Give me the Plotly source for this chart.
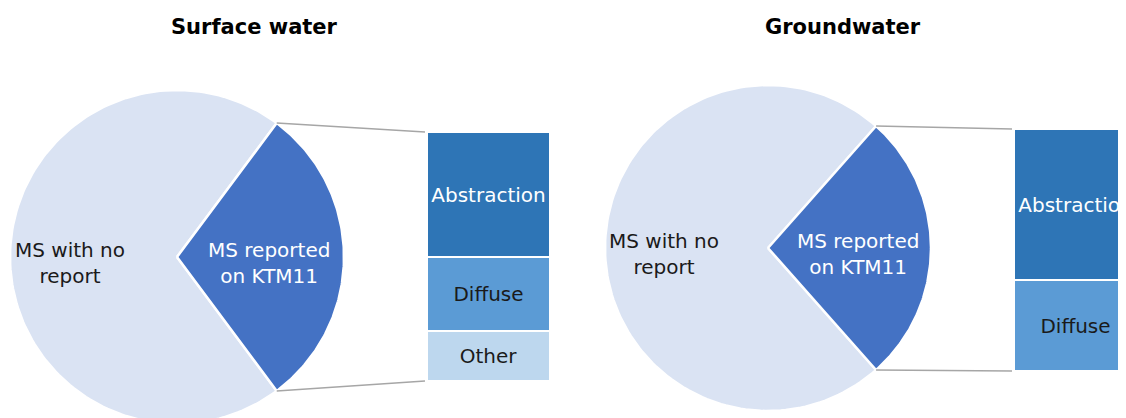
import numpy as np
import plotly.graph_objects as go

# values
panel_titles = ["Surface water", "Groundwater"]
pie_labels = ["MS reported<br>on KTM11", "MS with no<br>report"]
sw_pie = [8, 19]
gw_pie = [7, 19]
sw_bar_labels = ["Abstraction", "Diffuse", "Other"]
sw_bar = [5, 3, 2]
gw_bar_labels = ["Abstraction", "Diffuse"]
gw_bar = [5, 3]

OFF = 8  # page body margin, so positions below are page pixels
PAGE_W, PAGE_H = 1126, 418
W, H = PAGE_W - OFF, PAGE_H - OFF
FONT = "DejaVu Sans"
PIE_COLORS = ["#4472C4", "#DAE3F3"]
PIE_TEXT = ["#FFFFFF", "#1A1A1A"]
BAR_COLORS = ["#2E75B6", "#5B9BD5", "#BDD7EE"]
BAR_TEXT = ["#FFFFFF", "#1A1A1A", "#1A1A1A"]
LINK = "#A6A6A6"

# layout of each panel in page pixels: pie centre/radius, bar box, title x
panels = [
    dict(title_x=254, cx=177, cy=257, r=167, bx0=427, bx1=550, by0=132, by1=381,
         pie=sw_pie, bar=sw_bar, bar_labels=sw_bar_labels),
    dict(title_x=843, cx=768, cy=248, r=163, bx0=1014, bx1=1137, by0=129, by1=371,
         pie=gw_pie, bar=gw_bar, bar_labels=gw_bar_labels),
]


def sector(cx, cy, r, a0, a1):
    t = np.radians(np.linspace(a0, a1, 150))
    xs = np.concatenate([[cx], cx + r * np.cos(t), [cx]])
    ys = np.concatenate([[cy], cy - r * np.sin(t), [cy]])
    return xs, ys


fig = go.Figure()
annotations = []
shapes = []

for i, p in enumerate(panels):
    reported, rest = p["pie"]
    half = 180 * reported / (reported + rest)
    cx, cy, r = p["cx"], p["cy"], p["r"]

    # light part first, then the split-off wedge on the right
    for k, (a0, a1) in [(1, (half, 360 - half)), (0, (-half, half))]:
        xs, ys = sector(cx, cy, r, a0, a1)
        fig.add_trace(go.Scatter(
            x=xs, y=ys, mode="lines", fill="toself",
            fillcolor=PIE_COLORS[k], line=dict(color="white", width=2.5),
            hoverinfo="skip", showlegend=False, xaxis="x", yaxis="y",
        ))
        mid = np.radians((a0 + a1) / 2)
        dist = 0.55 if k == 0 else 0.64
        annotations.append(dict(
            x=cx + dist * r * np.cos(mid), y=cy + 6, xref="x", yref="y",
            text=pie_labels[k], showarrow=False,
            font=dict(family=FONT, size=20, color=PIE_TEXT[k]),
        ))

    # connector lines from wedge corners to the bar
    corner_x = cx + r * np.cos(np.radians(half))
    dy = r * np.sin(np.radians(half))
    for y_pie, y_bar in [(cy - dy, p["by0"]), (cy + dy, p["by1"])]:
        shapes.append(dict(
            type="line", xref="x", yref="y",
            x0=corner_x, y0=y_pie, x1=p["bx0"] - 2, y1=y_bar,
            line=dict(color=LINK, width=1.5),
        ))

    # stacked bar of the split-off wedge
    ax = str(i + 2)
    total = sum(p["bar"])
    n = len(p["bar"])
    for j in reversed(range(n)):
        fig.add_trace(go.Bar(
            x=[0], y=[p["bar"][j]], width=[1],
            marker=dict(color=BAR_COLORS[j], line=dict(color="white", width=2)),
            text=[p["bar_labels"][j]], textposition="inside",
            insidetextanchor="middle", textangle=0,
            textfont=dict(family=FONT, size=20, color=BAR_TEXT[j]),
            hoverinfo="skip", showlegend=False,
            xaxis="x" + ax, yaxis="y" + ax,
        ))
    bar_w = p["bx1"] - p["bx0"]
    right = min(p["bx1"], PAGE_W)
    vis_w = right - p["bx0"]
    fig.update_layout(**{
        "xaxis" + ax: dict(domain=[(p["bx0"] - OFF) / W, (right - OFF) / W],
                           range=[-0.5, -0.5 + vis_w / bar_w], visible=False,
                           fixedrange=True),
        "yaxis" + ax: dict(domain=[(H - p["by1"] + OFF) / H, (H - p["by0"] + OFF) / H],
                           range=[0, total], visible=False, fixedrange=True),
    })

    annotations.append(dict(
        x=p["title_x"], y=27, xref="x", yref="y", text="<b>%s</b>" % panel_titles[i],
        showarrow=False, font=dict(family=FONT, size=21, color="#000000"),
    ))

fig.update_layout(
    width=W, height=H, autosize=False,
    margin=dict(l=0, r=0, t=0, b=0),
    paper_bgcolor="white", plot_bgcolor="white",
    barmode="stack", bargap=0,
    xaxis=dict(range=[OFF, PAGE_W], visible=False, fixedrange=True),
    yaxis=dict(range=[OFF + H, OFF], visible=False, fixedrange=True),
    annotations=annotations, shapes=shapes,
    uniformtext=dict(mode=False),
)

fig.write_html("out.html", config={"responsive": False})
